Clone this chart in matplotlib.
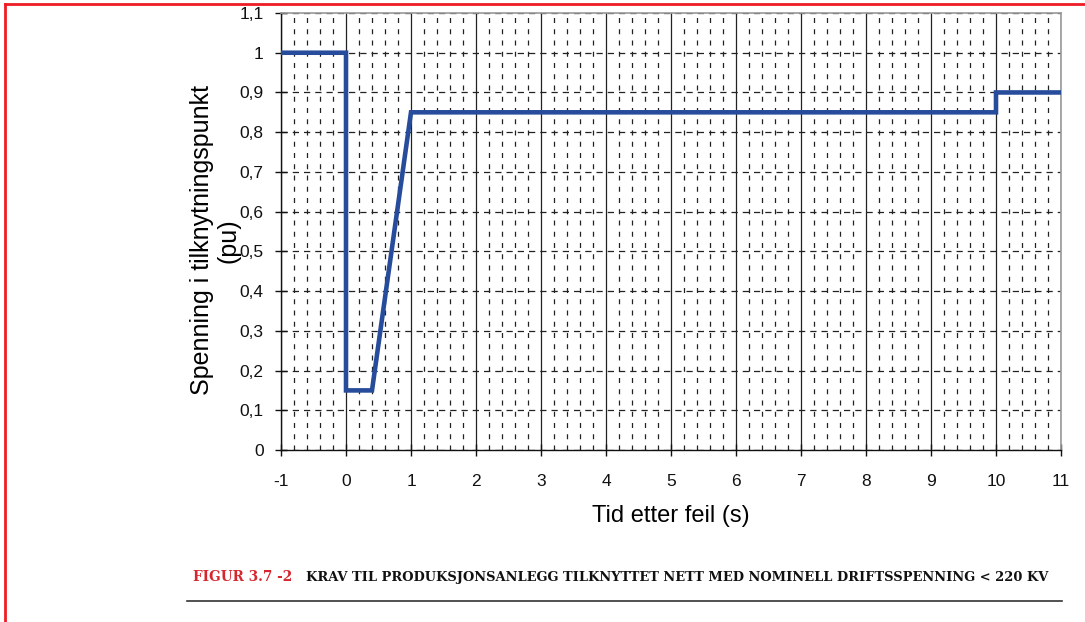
import matplotlib
matplotlib.use("Agg")
import matplotlib.pyplot as plt
from matplotlib.ticker import MultipleLocator, FuncFormatter
from matplotlib.lines import Line2D

# Data
time_s = [-1, 0, 0, 0.4, 1, 10, 10, 11]
voltage_pu = [1.0, 1.0, 0.15, 0.15, 0.85, 0.85, 0.9, 0.9]
x_ticks = list(range(-1, 12))
y_ticks = [0, 0.1, 0.2, 0.3, 0.4, 0.5, 0.6, 0.7, 0.8, 0.9, 1.0, 1.1]

plt.rcParams['font.family'] = ['Liberation Sans', 'DejaVu Sans']

fig = plt.figure(figsize=(10.85, 6.22), dpi=100)
ax = fig.add_axes([281/1085, 1-450/622, (1061-281)/1085, (450-13)/622])

ax.set_xlim(-1, 11)
ax.set_ylim(0, 1.1)
ax.set_xticks(x_ticks)
ax.set_yticks(y_ticks)
ax.xaxis.set_minor_locator(MultipleLocator(0.2))

def fmt(v, pos):
    s = ('%.1f' % v).rstrip('0').rstrip('.')
    return s.replace('.', ',')
ax.yaxis.set_major_formatter(FuncFormatter(fmt))
ax.xaxis.set_major_formatter(FuncFormatter(lambda v, p: '%d' % v))

# grid
ax.grid(True, which='major', axis='x', color='#222222', linewidth=0.9, linestyle='-')
ax.grid(True, which='minor', axis='x', color='#222222', linewidth=0.9, linestyle=(0, (4, 5)))
ax.grid(True, which='major', axis='y', color='#222222', linewidth=0.9, linestyle=(0, (5, 4)))
ax.set_axisbelow(True)

ax.plot(time_s, voltage_pu, color='#274c9b', linewidth=3.3, solid_joinstyle='miter', zorder=3)

for s in ['top', 'right']:
    ax.spines[s].set_color('#999999')
    ax.spines[s].set_linewidth(1.2)
for s in ['left', 'bottom']:
    ax.spines[s].set_color('#111111')
    ax.spines[s].set_linewidth(1.0)

ax.tick_params(axis='both', which='major', direction='inout', length=9, width=1.0,
               labelsize=12.5, colors='#111111')
ax.tick_params(axis='y', which='major', pad=8)
ax.tick_params(axis='x', which='minor', length=0)
ax.tick_params(axis='x', which='major', pad=13)

ax.set_xlabel('Tid etter feil (s)', fontsize=17, labelpad=11)
ax.set_ylabel('Spenning i tilknytningspunkt\n(pu)', fontsize=18, labelpad=2, linespacing=1.15)
ax.yaxis.set_label_coords(-0.052, 0.48)

# caption
cap_font = ['DejaVu Serif', 'Liberation Serif']
fig.text(193/1085, 1-577/622, 'FIGUR 3.7 -2', color='#d6262e', fontsize=9.8,
         fontweight='bold', family=cap_font, va='center', ha='left')
fig.text(306/1085, 1-577/622, 'KRAV TIL PRODUKSJONSANLEGG TILKNYTTET NETT MED NOMINELL DRIFTSSPENNING < 220 KV',
         color='#111111', fontsize=9.4, fontweight='bold', family=cap_font,
         va='center', ha='left')
fig.add_artist(Line2D([187/1085, 1062/1085], [1-601/622, 1-601/622], color='#333333', linewidth=1.2))

# red frame
fig.add_artist(Line2D([5/1085, 1.0], [1-4/622, 1-4/622], color='#ee1c24', linewidth=2))
fig.add_artist(Line2D([5/1085, 5/1085], [1-4/622, 0.0], color='#ee1c24', linewidth=2))

fig.savefig('out.png', dpi=100)
